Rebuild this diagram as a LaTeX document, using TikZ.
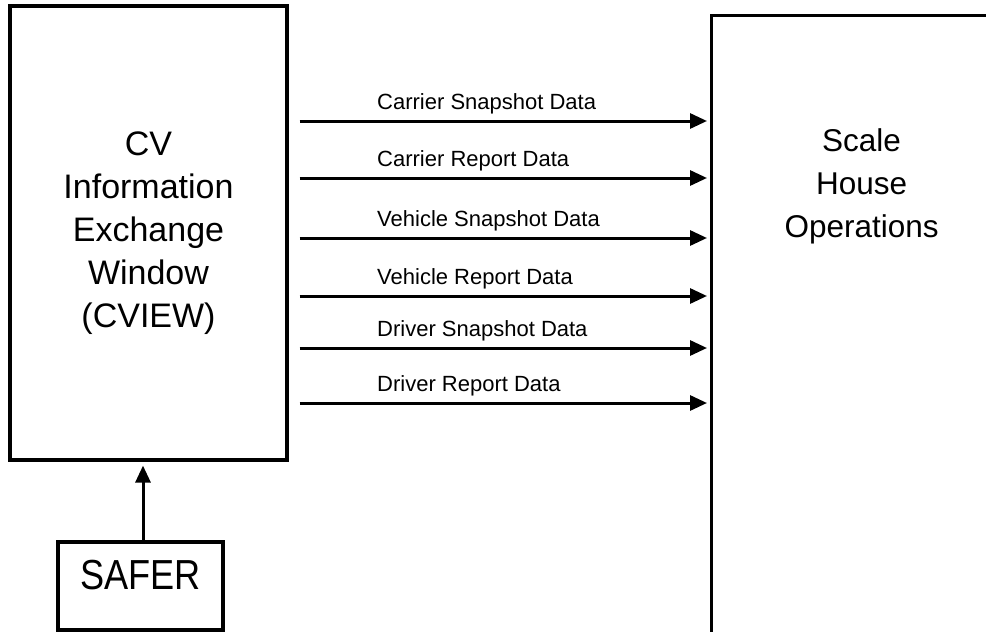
\documentclass[tikz,border=0pt]{standalone}
\usepackage{fontspec}
\setmainfont{Liberation Sans}
\newfontfamily\saferfont[FakeStretch=0.86]{Liberation Sans}
\usetikzlibrary{arrows.meta,positioning}

\begin{document}
\begin{tikzpicture}[
  x=1pt, y=-1pt,
  >={Triangle[length=17pt, width=15pt]},
  box/.style={rectangle, draw=black, line width=3.2pt, inner sep=0pt},
  big/.style={font=\fontsize{34}{43}\selectfont, align=center},
  lab/.style={font=\fontsize{22}{26}\selectfont, anchor=base west, inner sep=0pt},
  arr/.style={->, line width=3pt, shorten <=11pt, shorten >=3pt},
]
\useasboundingbox (0,0) rectangle (986,632);
\clip (0,0) rectangle (986,632);

% ---------------------------------------------------------------- boxes
\node[box, big, minimum width=277pt, minimum height=454pt] (cview) at (148.5,233)
     {CV\\Information\\Exchange\\Window\\(CVIEW)};
\node[box, minimum width=300pt, minimum height=660pt, anchor=north west] (ops) at (710,14) {};
\node[big, font=\fontsize{31.5}{43}\selectfont, inner sep=0pt, below=114pt of ops.north] (opstxt)
     {Scale\\House\\Operations};
\node[box, font=\saferfont\fontsize{42}{50}\selectfont, minimum width=165pt, minimum height=88pt,
      text depth=22pt] (safer) at (140.5,586) {SAFER};

% ---------------------------------------------------------------- data flows
\node[lab] (csnap) at (377,109) {Carrier Snapshot Data};
\node[lab] (crep)  at (377,166) {Carrier Report Data};
\node[lab] (vsnap) at (377,226) {Vehicle Snapshot Data};
\node[lab] (vrep)  at (377,284) {Vehicle Report Data};
\node[lab] (dsnap) at (377,336) {Driver Snapshot Data};
\node[lab] (drep)  at (377,391) {Driver Report Data};

\draw[arr] ([yshift=-12pt]cview.east |- csnap.base) -- ([yshift=-12pt]ops.west |- csnap.base);
\draw[arr] ([yshift=-12pt]cview.east |- crep.base)  -- ([yshift=-12pt]ops.west |- crep.base);
\draw[arr] ([yshift=-12pt]cview.east |- vsnap.base) -- ([yshift=-12pt]ops.west |- vsnap.base);
\draw[arr] ([yshift=-12pt]cview.east |- vrep.base)  -- ([yshift=-12pt]ops.west |- vrep.base);
\draw[arr] ([yshift=-12pt]cview.east |- dsnap.base) -- ([yshift=-12pt]ops.west |- dsnap.base);
\draw[arr] ([yshift=-12pt]cview.east |- drep.base)  -- ([yshift=-12pt]ops.west |- drep.base);

% SAFER feeds CVIEW
\draw[->, line width=3pt, shorten >=4pt] ([xshift=2.5pt]safer.north) -- ([xshift=2.5pt]safer.north |- cview.south);
\end{tikzpicture}
\end{document}
